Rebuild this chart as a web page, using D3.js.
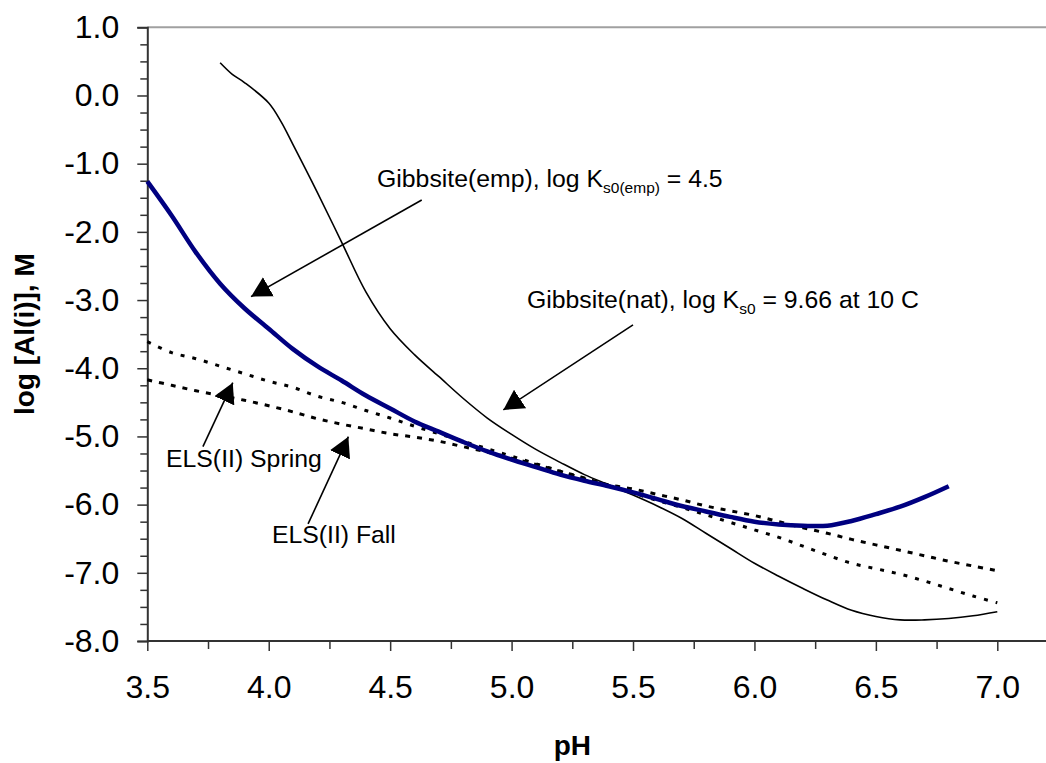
<!DOCTYPE html>
<html>
<head>
<meta charset="utf-8">
<script src="https://cdn.jsdelivr.net/npm/d3@7"></script>
<style>
  body { margin: 0; background: #fff; }
  svg { display: block; font-family: "Liberation Sans", Arial, sans-serif; }
  .tick text { font-size: 32px; fill: #000; }
  .label { font-size: 24.8px; fill: #000; }
  .title { font-size: 28px; font-weight: bold; fill: #000; }
</style>
</head>
<body>
<svg id="chart" width="1046" height="763"></svg>
<script>
// pH values and log [Al(i)]
var natPH = [3.8, 3.85, 3.9, 4.0, 4.05, 4.1, 4.2, 4.3, 4.4, 4.5, 4.6, 4.7, 4.8, 4.9, 5.0, 5.1, 5.2, 5.3, 5.4, 5.5, 5.6,
             5.7, 5.8, 5.9, 6.0, 6.1, 6.2, 6.3, 6.4, 6.5, 6.6, 6.7, 6.8, 6.9, 7.0];
var natLogAl = [0.48, 0.31, 0.19, -0.11, -0.38, -0.72, -1.42, -2.15, -2.88, -3.42, -3.80, -4.12, -4.44, -4.73, -4.97, -5.19, -5.38, -5.56, -5.71, -5.86, -6.02,
                -6.20, -6.42, -6.64, -6.86, -7.05, -7.23, -7.40, -7.55, -7.64, -7.69, -7.69, -7.67, -7.63, -7.57];

var empPH = [3.5, 3.6, 3.7, 3.8, 3.9, 4.0, 4.1, 4.2, 4.3, 4.4, 4.5, 4.6, 4.7, 4.8, 4.9, 5.0, 5.1,
             5.2, 5.3, 5.4, 5.5, 5.6, 5.7, 5.8, 5.9, 6.0, 6.1, 6.2, 6.3, 6.4, 6.5, 6.6, 6.7, 6.8];
var empLogAl = [-1.26, -1.76, -2.30, -2.76, -3.12, -3.42, -3.72, -3.97, -4.18, -4.40, -4.59, -4.78, -4.93, -5.08, -5.22, -5.34, -5.45,
                -5.56, -5.65, -5.73, -5.82, -5.92, -6.02, -6.10, -6.18, -6.25, -6.29, -6.31, -6.31, -6.24, -6.14, -6.03, -5.89, -5.73];

var springPH = [3.5, 3.6, 3.7, 3.8, 3.9, 4.0, 4.1, 4.2, 4.3, 4.4, 4.5, 4.6, 4.7, 4.8, 4.9, 5.0, 5.1, 5.2,
                5.3, 5.4, 5.5, 5.6, 5.7, 5.8, 5.9, 6.0, 6.1, 6.2, 6.3, 6.4, 6.5, 6.6, 6.7, 6.8, 6.9, 7.0];
var springLogAl = [-3.61, -3.77, -3.86, -3.97, -4.08, -4.19, -4.28, -4.41, -4.50, -4.62, -4.73, -4.85, -4.96, -5.07, -5.18, -5.29, -5.40, -5.51,
                   -5.62, -5.72, -5.83, -5.94, -6.04, -6.15, -6.26, -6.37, -6.48, -6.61, -6.74, -6.86, -6.94, -7.02, -7.12, -7.23, -7.34, -7.44];

var fallPH = [3.5, 3.6, 3.7, 3.8, 3.9, 4.0, 4.1, 4.2, 4.3, 4.4, 4.5, 4.6, 4.7, 4.8, 4.9, 5.0, 5.1, 5.2,
              5.3, 5.4, 5.5, 5.6, 5.7, 5.8, 5.9, 6.0, 6.1, 6.2, 6.3, 6.4, 6.5, 6.6, 6.7, 6.8, 6.9, 7.0];
var fallLogAl = [-4.17, -4.25, -4.33, -4.40, -4.47, -4.55, -4.64, -4.74, -4.82, -4.89, -4.96, -5.01, -5.07, -5.15, -5.23, -5.32, -5.41, -5.51,
                 -5.61, -5.71, -5.77, -5.85, -5.93, -6.02, -6.09, -6.16, -6.25, -6.34, -6.42, -6.51, -6.59, -6.67, -6.75, -6.83, -6.90, -6.97];

var xMajor = [3.5, 4.0, 4.5, 5.0, 5.5, 6.0, 6.5, 7.0];
var xMinor = [3.75, 4.25, 4.75, 5.25, 5.75, 6.25, 6.75];
var yMajor = [1, 0, -1, -2, -3, -4, -5, -6, -7, -8];

var svg = d3.select("#chart");

// scales: plot area runs past the right edge of the picture
var x = d3.scaleLinear().domain([3.5, 7.0]).range([147.3, 997.3]);
var y = d3.scaleLinear().domain([-8, 1]).range([641, 27.3]);

var yMinor = d3.range(-8, 1.01, 0.25).filter(function(v) { return yMajor.indexOf(v) < 0; });

// top border of plot area
svg.append("line")
    .attr("x1", x(3.5)).attr("x2", 1046)
    .attr("y1", y(1)).attr("y2", y(1))
    .attr("stroke", "#a0a0a0").attr("stroke-width", 2);

// axes
var xAxis = svg.append("g")
    .attr("transform", "translate(0," + y(-8) + ")")
    .call(d3.axisBottom(x).tickValues(xMajor).tickSize(10).tickPadding(24)
        .tickFormat(d3.format(".1f")));
svg.append("g")
    .attr("transform", "translate(0," + y(-8) + ")")
    .call(d3.axisBottom(x).tickValues(xMinor).tickSize(8).tickFormat(""))
    .select(".domain").remove();

var yAxis = svg.append("g")
    .attr("transform", "translate(" + x(3.5) + ",0)")
    .call(d3.axisLeft(y).tickValues(yMajor).tickSize(10).tickPadding(18)
        .tickFormat(function(d) { return d3.format(".1f")(d).replace("\u2212", "-"); }));
svg.append("g")
    .attr("transform", "translate(" + x(3.5) + ",0)")
    .call(d3.axisLeft(y).tickValues(yMinor).tickSize(7).tickFormat(""))
    .select(".domain").remove();

svg.selectAll(".domain").attr("stroke", "#333").attr("stroke-width", 2);
svg.selectAll(".tick line").attr("stroke", "#333").attr("stroke-width", 1.5);
svg.selectAll(".tick text").attr("font-family", null).attr("font-size", null);
xAxis.select(".domain").attr("d", "M" + x(3.5) + ",0H1046");

// lines
var line = d3.line()
    .x(function(d) { return x(d[0]); })
    .y(function(d) { return y(d[1]); })
    .curve(d3.curveCatmullRom);

function pairs(a, b) { return a.map(function(v, i) { return [v, b[i]]; }); }

svg.append("path").datum(pairs(fallPH, fallLogAl))
    .attr("d", line).attr("fill", "none")
    .attr("stroke", "#000").attr("stroke-width", 3).attr("stroke-dasharray", "5,7");
svg.append("path").datum(pairs(springPH, springLogAl))
    .attr("d", line).attr("fill", "none")
    .attr("stroke", "#000").attr("stroke-width", 3).attr("stroke-dasharray", "4,8");
svg.append("path").datum(pairs(natPH, natLogAl))
    .attr("d", line).attr("fill", "none")
    .attr("stroke", "#000").attr("stroke-width", 1.6);
svg.append("path").datum(pairs(empPH, empLogAl))
    .attr("d", line).attr("fill", "none")
    .attr("stroke", "#000080").attr("stroke-width", 4.5);

// annotations (positions in data units)
svg.append("defs").append("marker")
    .attr("id", "head")
    .attr("viewBox", "0 0 20 22")
    .attr("refX", 20).attr("refY", 11)
    .attr("markerWidth", 20).attr("markerHeight", 22)
    .attr("markerUnits", "userSpaceOnUse")
    .attr("orient", "auto")
  .append("path")
    .attr("d", "M0,0L20,11L0,22Z")
    .attr("fill", "#000");

var arrows = [
    {from: [4.630, -1.532], to: [3.927, -2.950]},
    {from: [5.500, -3.365], to: [4.966, -4.611]},
    {from: [3.729, -5.150], to: [3.852, -4.211]},
    {from: [4.162, -6.283], to: [4.328, -5.003]}
];
svg.selectAll(".arrow").data(arrows).enter().append("line")
    .attr("class", "arrow")
    .attr("x1", function(d) { return x(d.from[0]); })
    .attr("y1", function(d) { return y(d.from[1]); })
    .attr("x2", function(d) { return x(d.to[0]); })
    .attr("y2", function(d) { return y(d.to[1]); })
    .attr("stroke", "#000").attr("stroke-width", 1.6)
    .attr("marker-end", "url(#head)");

function label(px, py, parts) {
    var t = svg.append("text").attr("class", "label")
        .attr("x", x(px)).attr("y", y(py));
    parts.forEach(function(p) {
        var s = t.append("tspan").text(p[0]);
        if (p[1] == "sub") s.attr("font-size", 15.5).attr("dy", 6);
        if (p[1] == "back") s.attr("dy", -6);
    });
}
label(4.446, -1.342, [["Gibbsite(emp), log K"], ["s0(emp)", "sub"], [" = 4.5", "back"]]);
label(5.063, -3.116, [["Gibbsite(nat), log K"], ["s0", "sub"], [" = 9.66 at 10 C", "back"]]);
label(3.577, -5.443, [["ELS(II) Spring"]]);
label(4.013, -6.562, [["ELS(II) Fall"]]);

// axis titles
svg.append("text").attr("class", "title")
    .attr("text-anchor", "middle")
    .attr("x", x(5.25)).attr("y", 755)
    .text("pH");
svg.append("text").attr("class", "title")
    .attr("text-anchor", "middle")
    .attr("transform", "translate(34," + y(-3.5) + ") rotate(-90)")
    .text("log [Al(i)], M");
</script>
</body>
</html>
